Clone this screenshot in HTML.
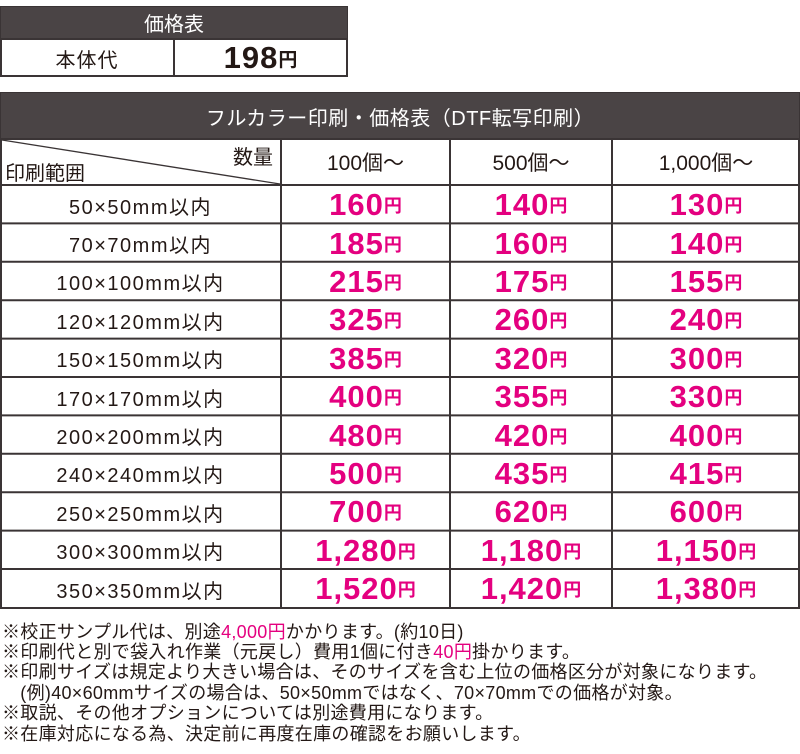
<!DOCTYPE html>
<html><head><meta charset="utf-8"><style>
*{margin:0;padding:0;box-sizing:border-box}
body{width:800px;height:754px;background:#fff;font-family:"Liberation Sans","Noto Sans CJK JP",sans-serif;color:#231815;position:relative;overflow:hidden}
.a{position:absolute}
.dk{background:#4a4445;color:#fff}
.c{display:flex;align-items:center;justify-content:center;white-space:nowrap}
.b{border:2px solid #3a3435}
.p{color:#e4007f;font-weight:bold;font-size:31px;letter-spacing:1px}
.p small{font-size:18px;font-weight:bold;letter-spacing:0}
.lb{font-size:20px;letter-spacing:1.5px}
.n{position:absolute;left:2px;font-size:18px;line-height:20px;white-space:nowrap;letter-spacing:0.3px}
.pk{color:#e4007f}
</style></head><body>
<div class="a b" style="left:0;top:6px;width:348px;height:71px"></div>
<div class="a dk c" style="left:1px;top:7px;width:346px;height:31px;font-size:20px">価格表</div>
<div class="a" style="left:1px;top:38px;width:346px;height:2px;background:#3a3435"></div>
<div class="a" style="left:173px;top:38px;width:2px;height:38px;background:#3a3435"></div>
<div class="a c" style="left:0;top:40px;width:174px;height:36px;font-size:20px;letter-spacing:1px">本体代</div>
<div class="a c" style="left:174px;top:40px;width:174px;height:36px;font-size:31px;font-weight:bold;letter-spacing:1px">198<span style="font-size:19px">円</span></div>

<div class="a b" style="left:0;top:92px;width:800px;height:517px"></div>
<div class="a dk c" style="left:1px;top:93px;width:798px;height:46px;font-size:20px;letter-spacing:0.5px">フルカラー印刷・価格表（DTF転写印刷）</div>
<svg class="a" style="left:0;top:0" width="800" height="754">
<g stroke="#3a3435" stroke-width="2">
<line x1="0" y1="139" x2="800" y2="139"/>
<line x1="281" y1="139" x2="281" y2="608"/>
<line x1="450" y1="139" x2="450" y2="608"/>
<line x1="612" y1="139" x2="612" y2="608"/>
<line x1="0" y1="185" x2="800" y2="185"/>
<line x1="2" y1="140" x2="280" y2="184" stroke-width="1.3"/>
</g>
<g id="rows" stroke="#3a3435" stroke-width="2"></g>
</svg>
<div class="a" style="left:233px;top:141px;font-size:20px">数量</div>
<div class="a" style="left:5px;top:157px;font-size:20px">印刷範囲</div>
<div class="a c" style="left:281px;top:139px;width:169px;height:46px;font-size:21px">100個～</div>
<div class="a c" style="left:450px;top:139px;width:162px;height:46px;font-size:21px">500個～</div>
<div class="a c" style="left:612px;top:139px;width:188px;height:46px;font-size:21px">1,000個～</div>
<div id="body"></div>
<div class="n" style="top:622px">※校正サンプル代は、別途<span class="pk">4,000円</span>かかります。(約10日)</div>
<div class="n" style="top:642px">※印刷代と別で袋入れ作業（元戻し）費用1個に付き<span class="pk">40円</span>掛かります。</div>
<div class="n" style="top:662px">※印刷サイズは規定より大きい場合は、そのサイズを含む上位の価格区分が対象になります。</div>
<div class="n" style="top:683px">　(例)40×60mmサイズの場合は、50×50mmではなく、70×70mmでの価格が対象。</div>
<div class="n" style="top:703px">※取説、その他オプションについては別途費用になります。</div>
<div class="n" style="top:724px">※在庫対応になる為、決定前に再度在庫の確認をお願いします。</div>
<script>
var d=[["50×50mm以内","160","140","130"],["70×70mm以内","185","160","140"],["100×100mm以内","215","175","155"],["120×120mm以内","325","260","240"],["150×150mm以内","385","320","300"],["170×170mm以内","400","355","330"],["200×200mm以内","480","420","400"],["240×240mm以内","500","435","415"],["250×250mm以内","700","620","600"],["300×300mm以内","1,280","1,180","1,150"],["350×350mm以内","1,520","1,420","1,380"]];
var h="",g="",y0=185,rh=38.4,cols=[[0,281],[281,450],[450,612],[612,800]];
d.forEach(function(r,i){var y=y0+i*rh;
if(i>0)g+='<line x1="0" y1="'+y+'" x2="800" y2="'+y+'"/>';
r.forEach(function(t,j){var c=cols[j];
h+='<div class="a c '+(j?'p':'lb')+'" style="left:'+c[0]+'px;top:'+(y+1)+'px;width:'+(c[1]-c[0])+'px;height:'+rh+'px">'+t+(j?'<small>円</small>':'')+'</div>';});});
document.getElementById("body").innerHTML=h;
document.getElementById("rows").innerHTML=g;
</script>
</body></html>
